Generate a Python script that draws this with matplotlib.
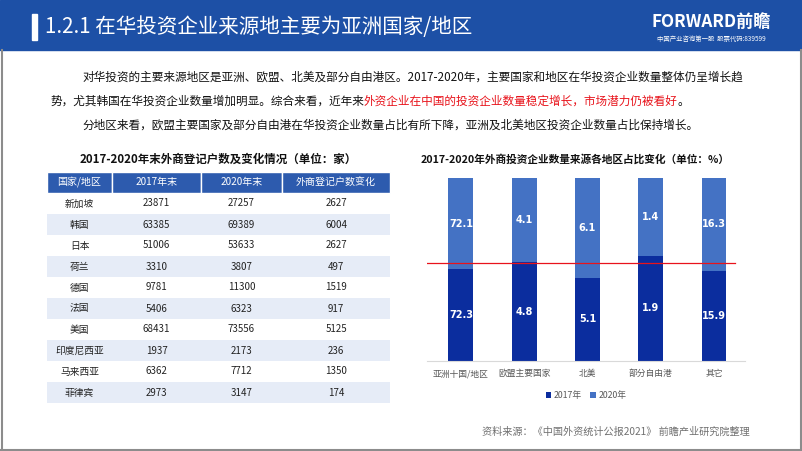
import matplotlib.pyplot as plt
from matplotlib.patches import Rectangle

plt.rcParams['font.family'] = ['Noto Sans CJK SC', 'DejaVu Sans']

# ---------- data ----------
regions = ['亚洲十国/地区', '欧盟主要国家', '北美', '部分自由港', '其它']
share_2017 = [72.3, 4.8, 5.1, 1.9, 15.9]
share_2020 = [72.1, 4.1, 6.1, 1.4, 16.3]

table_cols = ['国家/地区', '2017年末', '2020年末', '外商登记户数变化']
countries = ['新加坡', '韩国', '日本', '荷兰', '德国', '法国', '美国', '印度尼西亚', '马来西亚', '菲律宾']
count_2017 = [23871, 63385, 51006, 3310, 9781, 5406, 68431, 1937, 6362, 2973]
count_2020 = [27257, 69389, 53633, 3807, 11300, 6323, 73556, 2173, 7712, 3147]
count_change = [2627, 6004, 2627, 497, 1519, 917, 5125, 236, 1350, 174]

HEADER_BLUE = '#1D50A6'
DARK = '#0B2D9E'
LIGHT = '#4472C4'

W, H = 802, 451
fig = plt.figure(figsize=(W / 100, H / 100), dpi=100)

# page overlay in pixel coords
page = fig.add_axes([0, 0, 1, 1])
page.set_xlim(0, W)
page.set_ylim(H, 0)
page.axis('off')

# header band
page.add_patch(Rectangle((0, 0), W, 50, color=HEADER_BLUE, zorder=1))
page.add_patch(Rectangle((32, 14), 5, 26, color='white', zorder=2))
page.text(45, 27, '1.2.1 在华投资企业来源地主要为亚洲国家/地区', color='white',
          fontsize=14.8, fontweight='light', va='center', ha='left', zorder=3)
page.text(711, 22, 'FORWARD前瞻', color='white', fontsize=12.3, fontweight='bold',
          va='center', ha='center', zorder=3)
page.text(711, 39, '中国产业咨询第一股  股票代码:839599', color='white', fontsize=4.6,
          va='center', ha='center', zorder=3)

# frame
page.plot([1.5, 1.5], [50, 449], color='#8C8C8C', lw=1.5)
page.plot([800.5, 800.5], [50, 449], color='#8C8C8C', lw=1.5)
page.plot([1, 801], [449.5, 449.5], color='#8C8C8C', lw=1.5)

# paragraph
fs_body = 8.4
page.text(82, 77, '对华投资的主要来源地区是亚洲、欧盟、北美及部分自由港区。2017-2020年，主要国家和地区在华投资企业数量整体仍呈增长趋',
          fontsize=fs_body, va='center', color='#111111')
renderer = fig.canvas.get_renderer()
x = 50
for part, col in [('势，尤其韩国在华投资企业数量增加明显。综合来看，近年来', '#111111'),
                  ('外资企业在中国的投资企业数量稳定增长，市场潜力仍被看好', '#E8131B'),
                  ('。', '#111111')]:
    t = page.text(x, 101, part, fontsize=fs_body, va='center', color=col)
    bb = t.get_window_extent(renderer)
    x += bb.width
page.text(82, 125, '分地区来看，欧盟主要国家及部分自由港在华投资企业数量占比有所下降，亚洲及北美地区投资企业数量占比保持增长。',
          fontsize=fs_body, va='center', color='#111111')

# ---------- table ----------
page.text(218, 159, '2017-2020年末外商登记户数及变化情况（单位：家）', fontsize=8.3,
          fontweight='bold', ha='center', va='center', color='#111111')
col_edges = [47, 112, 201, 282, 390]
head_top, head_h, row_h = 172, 21, 21
for i, name in enumerate(table_cols):
    x0, x1 = col_edges[i], col_edges[i + 1]
    page.add_patch(Rectangle((x0, head_top), x1 - x0, head_h, facecolor='#2D5BAE',
                             edgecolor='white', lw=1))
    page.text((x0 + x1) / 2, head_top + head_h / 2, name, color='white', fontsize=7.2,
              ha='center', va='center')
for r, name in enumerate(countries):
    y0 = head_top + head_h + r * row_h
    if r % 2 == 1:
        page.add_patch(Rectangle((col_edges[0], y0), col_edges[-1] - col_edges[0], row_h,
                                 facecolor='#E6ECF7', edgecolor='none'))
    vals = [name, count_2017[r], count_2020[r], count_change[r]]
    for c, v in enumerate(vals):
        page.text((col_edges[c] + col_edges[c + 1]) / 2, y0 + row_h / 2, str(v),
                  fontsize=7, ha='center', va='center', color='#222222')

# source
page.text(750, 432, '资料来源：《中国外资统计公报2021》 前瞻产业研究院整理', fontsize=7.3,
          ha='right', va='center', color='#707070')

# ---------- stacked percent bar chart ----------
page.text(575, 159, '2017-2020年外商投资企业数量来源各地区占比变化（单位：%）', fontsize=7.7,
          fontweight='bold', ha='center', va='center', color='#111111')

ax_l, ax_r, ax_t, ax_b = 427, 745, 178, 361
ax = fig.add_axes([ax_l / W, 1 - ax_b / H, (ax_r - ax_l) / W, (ax_b - ax_t) / H])
ax.patch.set_alpha(0)
xs = list(range(len(regions)))
pct17 = [a / (a + b) * 100 for a, b in zip(share_2017, share_2020)]
pct20 = [b / (a + b) * 100 for a, b in zip(share_2017, share_2020)]
bw = 0.395
b1 = ax.bar(xs, pct17, width=bw, color=DARK, label='2017年')
b2 = ax.bar(xs, pct20, width=bw, bottom=pct17, color=LIGHT, label='2020年')
for i in xs:
    ax.text(i, pct17[i] / 2, f'{share_2017[i]:.1f}', color='white', fontsize=7,
            fontweight='bold', ha='center', va='center', family='DejaVu Sans')
    ax.text(i, pct17[i] + pct20[i] / 2, f'{share_2020[i]:.1f}', color='white', fontsize=7,
            fontweight='bold', ha='center', va='center', family='DejaVu Sans')
ax.set_xlim(-0.537, 4.49)
ax.set_ylim(0, 100)
ax.axhline(53.5, xmin=0, xmax=0.969, color='#E8131B', lw=0.9)
for s in ['top', 'right', 'left']:
    ax.spines[s].set_visible(False)
ax.spines['bottom'].set_color('#D9D9D9')
ax.set_yticks([])
ax.set_xticks(xs)
ax.set_xticklabels(regions, fontsize=6.3, color='#595959')
ax.tick_params(axis='x', length=0, pad=6)
ax.legend(handles=[b1, b2], loc='upper center', bbox_to_anchor=(0.5, -0.12), ncol=2,
          frameon=False, fontsize=6.3, handlelength=0.6, handleheight=0.6,
          handletextpad=0.3, columnspacing=1.0, labelcolor='#595959')

fig.savefig('out.png', dpi=100)
